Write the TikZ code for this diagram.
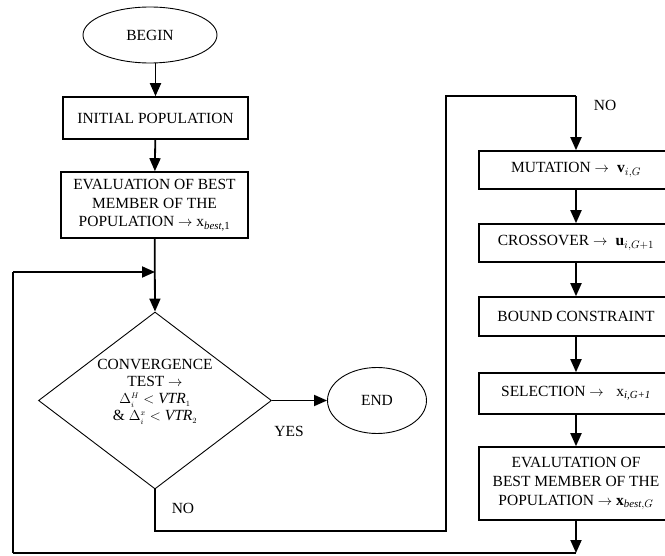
\documentclass[tikz,border=0pt]{standalone}
\usepackage{fontspec}
\setmainfont{Liberation Serif}
\usetikzlibrary{shapes.geometric,arrows.meta}

\begin{document}
\begin{tikzpicture}[x=1pt,y=-1pt,
  every node/.style={font=\fontsize{15.5}{18.5}\selectfont, text=black},
  procbox/.style={draw, line width=1.6pt, rectangle, inner sep=0pt, align=center},
  termnode/.style={draw, line width=0.9pt, ellipse, inner sep=0pt},
  decision/.style={draw, line width=0.9pt, diamond, inner sep=0pt,
    minimum width=233pt, minimum height=177pt},
  decisiontext/.style={align=center, inner sep=0pt, font=\fontsize{15.5}{17}\selectfont},
  flow/.style={line width=1.8pt, -{Triangle[length=13pt,width=11pt]}},
  link/.style={line width=1.8pt},
  slimlink/.style={line width=1.1pt},
  lbl/.style={inner sep=0pt}
]
\useasboundingbox (0,0) rectangle (665,556);
\clip (0,0) rectangle (665,556);

% left column
\node[termnode, minimum width=134pt, minimum height=56pt] (begin) at (150,35) {BEGIN};
\node[procbox, minimum width=185pt, minimum height=42pt] (init) at (155.5,118) {INITIAL POPULATION};
\node[procbox, minimum width=187pt, minimum height=66pt] (eval1) at (154.5,205)
  {EVALUATION OF BEST\\MEMBER OF THE\\POPULATION $\rightarrow$ x\textsubscript{\textit{best},1}};
\node[decision] (test) at (155,400.5) {};
\node[decisiontext] (testtext) at (155,392)
  {CONVERGENCE\\TEST $\rightarrow$\\
   $\Delta^{\scriptscriptstyle H}_{\scriptscriptstyle i}\mathrel{<}\mathit{VTR}_{\scriptscriptstyle 1}$\\
   \& $\Delta^{\scriptscriptstyle x}_{\scriptscriptstyle i}\mathrel{<}\mathit{VTR}_{\scriptscriptstyle 2}$};
\node[termnode, minimum width=99pt, minimum height=66pt] (end) at (377,400.5) {END};
\node[lbl] (yes) at (289,431) {YES};
\node[lbl] (nolow) at (183,508) {NO};

% right column
\node[lbl] (notop) at (605,105) {NO};
\node[procbox, minimum width=194pt, minimum height=38pt] (mut) at (576,170)
  {MUTATION $\rightarrow$\; $\mathbf{v}_{i,G}$};
\node[procbox, minimum width=194pt, minimum height=38pt] (cross) at (576,243)
  {CROSSOVER $\rightarrow$\; $\mathbf{u}_{i,G+1}$};
\node[procbox, minimum width=194pt, minimum height=39pt] (bound) at (576,316.5)
  {BOUND CONSTRAINT};
\node[procbox, minimum width=194pt, minimum height=41pt] (sel) at (576,393.5)
  {SELECTION $\rightarrow$\;\; x\textsubscript{\textit{i,G+1}}};
\node[procbox, minimum width=194pt, minimum height=73pt, font=\fontsize{15.5}{19}\selectfont] (eval2) at (576,483.5)
  {EVALUTATION OF\\BEST MEMBER OF THE\\POPULATION $\rightarrow$ $\mathbf{x}_{\mathit{best},G}$};

% loop coordinates
\coordinate (join) at (155,272);
\coordinate (nocorner1) at (155,531);
\coordinate (nocorner2) at (446,531);
\coordinate (nocorner3) at (446,96);
\coordinate (nocorner4) at (576,96);
\coordinate (back) at (576,553);
\coordinate (backmid) at (470,553);
\coordinate (backleft) at (13,553);
\coordinate (backup) at (13,272);

% main flow
\draw[flow] (begin.south -| init.north) -- (init.north);
\draw[flow] (init) -- (eval1);
\draw[flow] (eval1) -- (test.north);
\draw[flow] (test.east) -- (end.west);

% "NO" branch into the generation loop
\draw[link] (test.south) -- (nocorner1) -- (nocorner2) -- (nocorner3) -- (nocorner4);
\draw[flow] (nocorner4) -- (mut.north);
\draw[flow] (mut) -- (cross);
\draw[flow] (cross) -- (bound);
\draw[flow] (bound) -- (sel);
\draw[flow] (sel) -- (eval2);
\draw[flow] (eval2) -- (back);

% return path to the convergence test
\draw[slimlink] (back) -- (backmid);
\draw[link] (backmid) -- (backleft);
\draw[slimlink] (backleft) -- (backup);
\draw[flow] (backup) -- (join);
\end{tikzpicture}
\end{document}
